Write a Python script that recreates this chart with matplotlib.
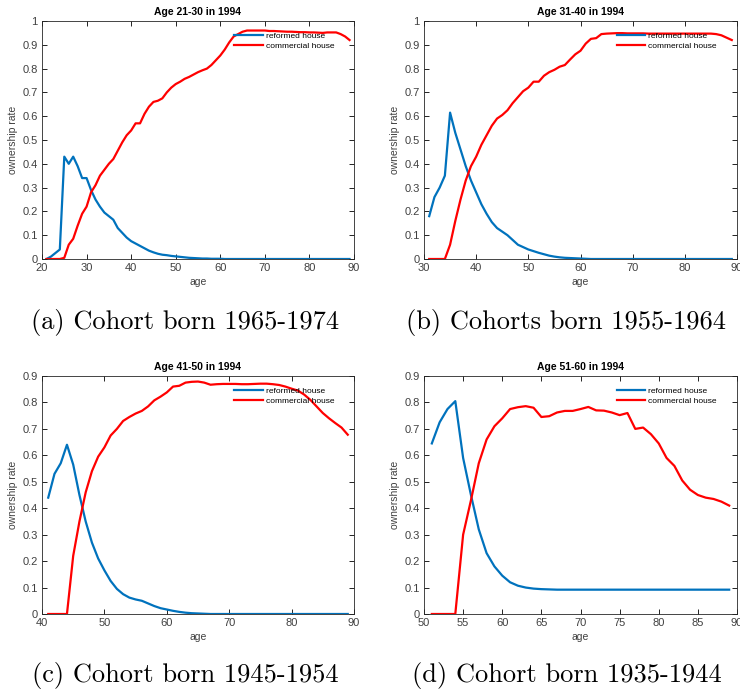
import numpy as np
import matplotlib
matplotlib.use("Agg")
import matplotlib.pyplot as plt

W, H = 740, 692

# ---- data ----
age_a = list(range(21, 90))
ref_a = [0, 0.01, 0.025, 0.04, 0.43, 0.40, 0.43, 0.39, 0.34, 0.34,
         0.29, 0.25, 0.22, 0.195, 0.18, 0.165, 0.13, 0.11, 0.09, 0.075,
         0.065, 0.055, 0.045, 0.035, 0.028, 0.022, 0.018, 0.016, 0.013, 0.011,
         0.009, 0.007, 0.005, 0.004, 0.003, 0.002, 0.002, 0.001, 0.001, 0.001] + [0] * 29
com_a = [0, 0, 0, 0, 0.005, 0.06, 0.085, 0.14, 0.19, 0.22,
         0.28, 0.31, 0.35, 0.375, 0.40, 0.42, 0.455, 0.49, 0.52, 0.54,
         0.57, 0.57, 0.61, 0.64, 0.66, 0.665, 0.675, 0.70, 0.72, 0.735,
         0.745, 0.757, 0.765, 0.775, 0.785, 0.793, 0.80, 0.815, 0.835, 0.855,
         0.88, 0.91, 0.935, 0.945, 0.955, 0.96, 0.96, 0.96, 0.96, 0.96,
         0.958, 0.958, 0.957, 0.956, 0.955, 0.955, 0.954, 0.953, 0.953, 0.952,
         0.952, 0.951, 0.95, 0.952, 0.952, 0.952, 0.945, 0.935, 0.92]

age_b = list(range(31, 90))
ref_b = [0.18, 0.26, 0.30, 0.35, 0.615, 0.53, 0.46, 0.39, 0.33, 0.28,
         0.23, 0.19, 0.155, 0.13, 0.115, 0.10, 0.08, 0.06, 0.05, 0.04,
         0.033, 0.026, 0.02, 0.014, 0.01, 0.007, 0.005, 0.004, 0.003, 0.002,
         0.001] + [0] * 28
com_b = [0, 0, 0, 0, 0.06, 0.16, 0.25, 0.33, 0.39, 0.43,
         0.48, 0.52, 0.56, 0.59, 0.605, 0.625, 0.655, 0.68, 0.705, 0.72,
         0.745, 0.745, 0.77, 0.785, 0.795, 0.808, 0.815, 0.838, 0.86, 0.875,
         0.905, 0.925, 0.928, 0.945, 0.947, 0.948, 0.949, 0.949, 0.948, 0.948,
         0.948, 0.948, 0.947, 0.947, 0.947, 0.947, 0.947, 0.947, 0.947, 0.947,
         0.947, 0.947, 0.947, 0.947, 0.947, 0.945, 0.94, 0.93, 0.92]

age_c = list(range(41, 90))
ref_c = [0.44, 0.53, 0.57, 0.64, 0.565, 0.45, 0.35, 0.27, 0.21, 0.165,
         0.125, 0.095, 0.075, 0.062, 0.055, 0.05, 0.04, 0.03, 0.022, 0.017,
         0.012, 0.008, 0.005, 0.003, 0.002, 0.001] + [0] * 23
com_c = [0, 0, 0, 0, 0.22, 0.35, 0.46, 0.54, 0.595, 0.63,
         0.675, 0.70, 0.73, 0.745, 0.758, 0.768, 0.785, 0.808, 0.822, 0.838,
         0.86, 0.863, 0.875, 0.878, 0.879, 0.875, 0.867, 0.869, 0.87, 0.87,
         0.87, 0.869, 0.869, 0.87, 0.871, 0.871, 0.869, 0.866, 0.86, 0.852,
         0.845, 0.83, 0.81, 0.785, 0.76, 0.74, 0.722, 0.705, 0.678]

age_d = list(range(51, 90))
ref_d = [0.645, 0.725, 0.775, 0.805, 0.59, 0.45, 0.32, 0.23, 0.18, 0.145,
         0.12, 0.107, 0.10, 0.096, 0.094, 0.093] + [0.092] * 23
com_d = [0, 0, 0, 0, 0.30, 0.43, 0.57, 0.66, 0.71, 0.74,
         0.775, 0.782, 0.786, 0.78, 0.745, 0.748, 0.762, 0.768, 0.768, 0.775,
         0.783, 0.77, 0.769, 0.762, 0.752, 0.76, 0.70, 0.705, 0.68, 0.645,
         0.59, 0.56, 0.505, 0.47, 0.45, 0.44, 0.435, 0.425, 0.41]

titles = ["Age 21-30 in 1994", "Age 31-40 in 1994",
          "Age 41-50 in 1994", "Age 51-60 in 1994"]
captions = ["(a) Cohort born 1965-1974", "(b) Cohorts born 1955-1964",
            "(c) Cohort born 1945-1954", "(d) Cohort born 1935-1944"]
xlims = [(20, 90), (30, 90), (40, 90), (50, 90)]
ylims = [(0, 1), (0, 1), (0, 0.9), (0, 0.9)]

BLUE = "#0072BD"
RED = "#FF0000"
GREY = "#404040"

plt.rcParams["font.family"] = ["Liberation Sans", "DejaVu Sans"]

fig = plt.figure(figsize=(W / 100, H / 100), dpi=100)

# axes boxes in pixels: left, top, right, bottom
boxes = [(42, 21, 354, 259), (424, 21, 737, 259),
         (42, 376, 354, 614), (424, 376, 737, 614)]
cap_pos = [(185, 329), (566, 329), (185, 682), (567, 682)]

panels = [(age_a, ref_a, com_a), (age_b, ref_b, com_b),
          (age_c, ref_c, com_c), (age_d, ref_d, com_d)]

for i, (ages, ref, com) in enumerate(panels):
    l, t, r, b = boxes[i]
    ax = fig.add_axes([l / W, 1 - b / H, (r - l) / W, (b - t) / H])
    ax.plot(ages, ref, color=BLUE, lw=1.6, label="reformed house")
    ax.plot(ages, com, color=RED, lw=1.6, label="commercial house")
    ax.set_xlim(*xlims[i])
    ax.set_ylim(*ylims[i])
    if i == 3:
        ax.set_xticks(np.arange(50, 91, 5))
    else:
        ax.set_xticks(np.arange(xlims[i][0], 91, 10))
    ax.set_yticks(np.arange(0, ylims[i][1] + 0.001, 0.1))
    ax.yaxis.set_major_formatter(matplotlib.ticker.FuncFormatter(
        lambda v, p: "%g" % round(v, 1)))
    ax.tick_params(direction="in", top=True, right=True, labelsize=8,
                   labelcolor=GREY, length=3.5, width=0.6, pad=3)
    for s in ax.spines.values():
        s.set_linewidth(0.6)
        s.set_color("#262626")
    ax.set_title(titles[i], fontsize=7.5, fontweight="bold", pad=4)
    ax.set_xlabel("age", fontsize=7.5, color=GREY, labelpad=3)
    ax.set_ylabel("ownership rate", fontsize=7.5, color=GREY, labelpad=3)
    ax.legend(loc="upper right", bbox_to_anchor=(0.936, 0.955), frameon=False,
              fontsize=6, handlelength=3.4, handletextpad=0.36,
              labelspacing=0.33, borderaxespad=0, borderpad=0)
    fig.text(cap_pos[i][0] / W, 1 - cap_pos[i][1] / H, captions[i],
             family="cmr10", fontsize=19, ha="center", va="baseline")

fig.savefig("out.png", dpi=100)
